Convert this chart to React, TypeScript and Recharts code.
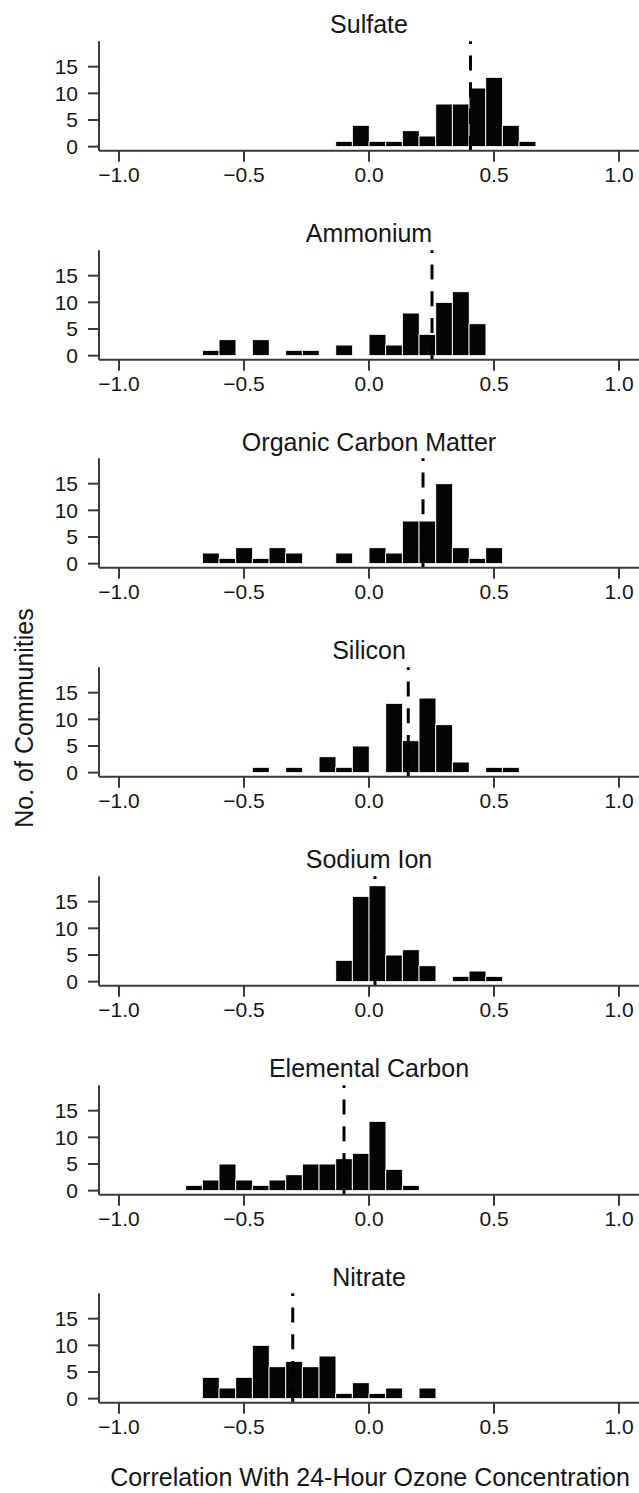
import { ComposedChart, Bar, XAxis, YAxis, ReferenceLine } from 'recharts'

// histogram bins are 1/15 wide; these are their centres
const BIN_CENTERS = [
  -0.7, -0.63333, -0.56667, -0.5, -0.43333, -0.36667, -0.3, -0.23333, -0.16667, -0.1, -0.03333,
  0.03333, 0.1, 0.16667, 0.23333, 0.3, 0.36667, 0.43333, 0.5, 0.56667, 0.63333,
]

const SULFATE = [0, 0, 0, 0, 0, 0, 0, 0, 0, 1, 4, 1, 1, 3, 2, 8, 8, 11, 13, 4, 1]
const AMMONIUM = [0, 1, 3, 0, 3, 0, 1, 1, 0, 2, 0, 4, 2, 8, 4, 10, 12, 6, 0, 0, 0]
const ORGANIC_CARBON = [0, 2, 1, 3, 1, 3, 2, 0, 0, 2, 0, 3, 2, 8, 8, 15, 3, 1, 3, 0, 0]
const SILICON = [0, 0, 0, 0, 1, 0, 1, 0, 3, 1, 5, 0, 13, 6, 14, 9, 2, 0, 1, 1, 0]
const SODIUM = [0, 0, 0, 0, 0, 0, 0, 0, 0, 4, 16, 18, 5, 6, 3, 0, 1, 2, 1, 0, 0]
const ELEMENTAL_CARBON = [1, 2, 5, 2, 1, 2, 3, 5, 5, 6, 7, 13, 4, 1, 0, 0, 0, 0, 0, 0, 0]
const NITRATE = [0, 4, 2, 4, 10, 6, 7, 6, 8, 1, 3, 1, 2, 0, 2, 0, 0, 0, 0, 0, 0]

const TITLES = ['Sulfate', 'Ammonium', 'Organic Carbon Matter', 'Silicon', 'Sodium Ion', 'Elemental Carbon', 'Nitrate']
const COUNTS = [SULFATE, AMMONIUM, ORGANIC_CARBON, SILICON, SODIUM, ELEMENTAL_CARBON, NITRATE]
const MEANS = [0.406, 0.252, 0.216, 0.157, 0.024, -0.1, -0.305]

const X_TICKS = [-1, -0.5, 0, 0.5, 1]
const X_TICK_LABELS = ['\u22121.0', '\u22120.5', '0.0', '0.5', '1.0']
const Y_TICKS = [0, 5, 10, 15]

const FONT = '"Liberation Sans", Arial, Helvetica, sans-serif'
const AXIS = '#3a3a3a'
const TEXT = '#161616'
const STEP = 208.7

function Panel({ counts, mean, top }: { counts: number[]; mean: number; top: number }) {
  const data = BIN_CENTERS.map((x, i) => ({ x, n: counts[i] }))
  return (
    <div style={{ position: 'absolute', left: 0, top }}>
      <ComposedChart
        width={639}
        height={200}
        data={data}
        margin={{ top: 41.3, right: 0, bottom: 9.3, left: 0 }}
        barCategoryGap={0}
        barGap={0}
      >
        <XAxis
          dataKey="x"
          type="number"
          domain={[-1.08, 1.08]}
          ticks={X_TICKS}
          interval={0}
          allowDataOverflow
          tickFormatter={(v: number) => X_TICK_LABELS[X_TICKS.indexOf(v)] ?? String(v)}
          height={40}
          tickSize={11}
          tickMargin={5}
          axisLine={{ stroke: AXIS, strokeWidth: 2 }}
          tickLine={{ stroke: AXIS, strokeWidth: 2 }}
          tick={{ fill: TEXT, fontSize: 21, fontFamily: FONT }}
        />
        <YAxis
          type="number"
          domain={[-0.76, 19.76]}
          ticks={Y_TICKS}
          interval={0}
          allowDataOverflow
          width={99}
          tickSize={11}
          tickMargin={10}
          axisLine={{ stroke: AXIS, strokeWidth: 2 }}
          tickLine={{ stroke: AXIS, strokeWidth: 2 }}
          tick={{ fill: TEXT, fontSize: 21, fontFamily: FONT }}
        />
        <Bar dataKey="n" fill="#050505" stroke="#ffffff" strokeWidth={1} isAnimationActive={false} />
        <ReferenceLine x={mean} stroke="#000" strokeWidth={3} strokeDasharray="15 11.7" />
      </ComposedChart>
    </div>
  )
}

export default function App() {
  return (
    <div style={{ position: 'absolute', left: 0, top: 0, width: 639, height: 1493, background: '#fff' }}>
      {TITLES.map((t, i) => (
        <Panel key={t} counts={COUNTS[i]} mean={MEANS[i]} top={i * STEP} />
      ))}
      <svg width={639} height={1493} style={{ position: 'absolute', left: 0, top: 0, pointerEvents: 'none' }}>
        {TITLES.map((t, i) => (
          <text key={t} x={369} y={33.3 + i * STEP} textAnchor="middle" fontSize={25} fontFamily={FONT} fill={TEXT}>
            {t}
          </text>
        ))}
        <text
          x={33}
          y={718}
          transform="rotate(-90, 33, 718)"
          textAnchor="middle"
          fontSize={25}
          fontFamily={FONT}
          fill={TEXT}
        >
          No. of Communities
        </text>
        <text x={370} y={1486} textAnchor="middle" fontSize={25} fontFamily={FONT} fill={TEXT}>
          Correlation With 24-Hour Ozone Concentration
        </text>
      </svg>
    </div>
  )
}
